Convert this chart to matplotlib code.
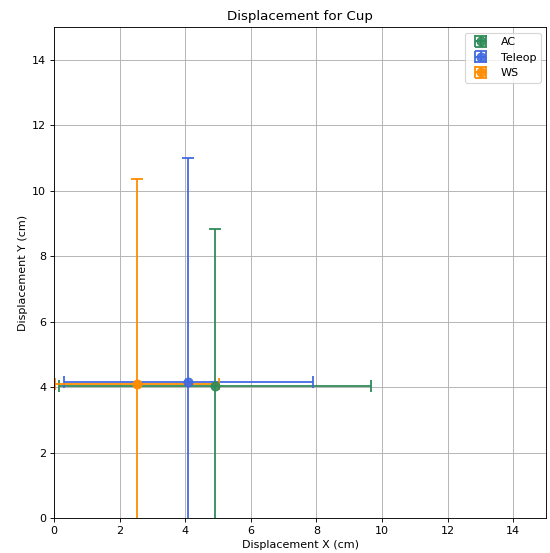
import matplotlib
matplotlib.use("Agg")
import matplotlib.pyplot as plt

labels = ["AC", "Teleop", "WS"]
colors = ["seagreen", "royalblue", "darkorange"]
mean_x = [4.91, 4.10, 2.53]
mean_y = [4.04, 4.16, 4.10]
std_x = [4.74, 3.80, 2.49]
std_y = [4.80, 6.85, 6.27]

fig, ax = plt.subplots(figsize=(6.875, 6.9125), dpi=80)
fig.subplots_adjust(left=0.098, right=0.993, top=0.951, bottom=0.063)

for lab, c, mx, my, sx, sy in zip(labels, colors, mean_x, mean_y, std_x, std_y):
    ax.errorbar(mx, my, xerr=sx, yerr=sy, fmt="o", color=c, ecolor=c,
                markersize=8, elinewidth=1.8, capsize=5, capthick=1.8,
                alpha=0.9, label=lab)

ax.set_xlim(0, 15)
ax.set_ylim(0, 15)
ax.set_xticks(range(0, 15, 2))
ax.set_yticks(range(0, 15, 2))
ax.grid(True)
ax.set_axisbelow(True)
ax.set_xlabel("Displacement X (cm)")
ax.set_ylabel("Displacement Y (cm)")
ax.set_title("Displacement for Cup")
ax.legend(loc="upper right")

fig.savefig("out.png", dpi=80)
